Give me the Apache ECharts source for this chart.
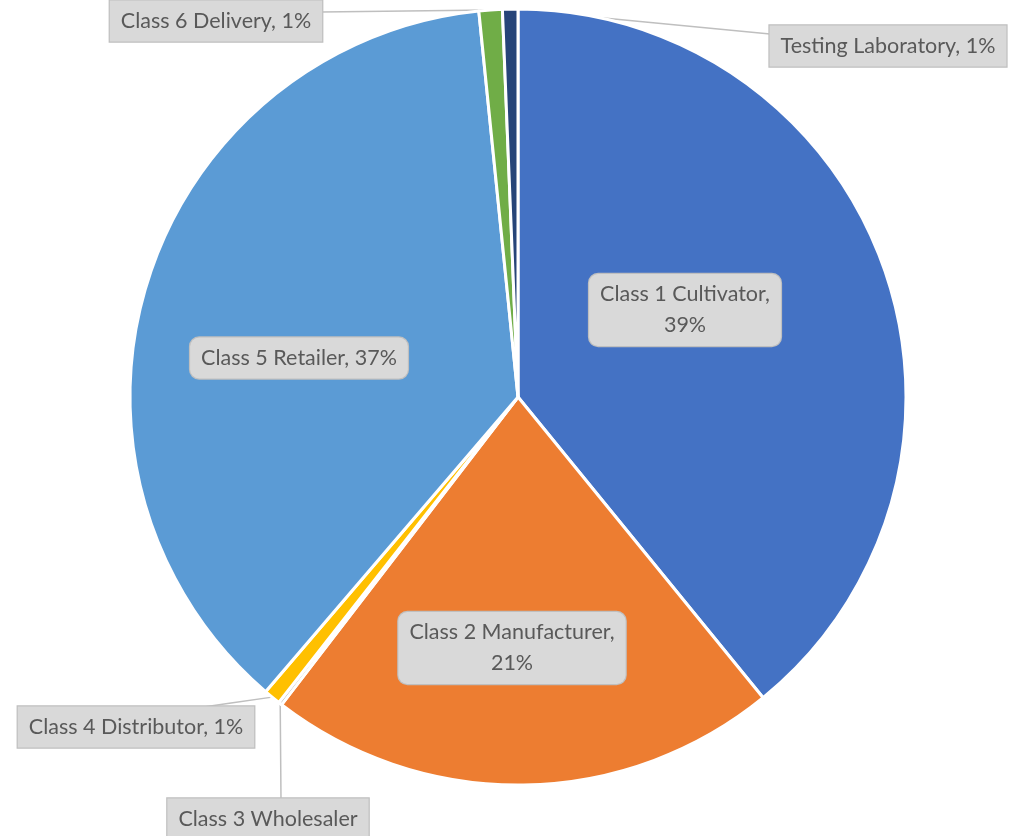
<!DOCTYPE html>
<html>
<head>
<meta charset="utf-8">
<script src="https://cdn.jsdelivr.net/npm/echarts@6/dist/echarts.min.js"></script>
<style>
  html, body { margin: 0; padding: 0; background: #ffffff; }
  #chart { width: 1020px; height: 836px; }
</style>
</head>
<body>
<div id="chart"></div>
<script>
const categories = ['Class 1 Cultivator', 'Class 2 Manufacturer', 'Class 3 Wholesaler', 'Class 4 Distributor', 'Class 5 Retailer', 'Class 6 Delivery', 'Testing Laboratory'];
const shares = [39.1, 21.3, 0.15, 0.7, 37.1, 0.97, 0.64];
const colors = ['#4472C4', '#ED7D31', '#A5A5A5', '#FFC000', '#5B9BD5', '#70AD47', '#264478'];
// label kinds: 'in2' = inside two lines, 'in1' = inside one line, 'out' = callout, 'outName' = callout name only
const labelKinds = ['in2', 'in2', 'outName', 'out', 'in1', 'out', 'out'];

// label placement (centres) and callout ends
const labelPos = {
  0: { x: 685, y: 310 },
  1: { x: 512, y: 648 },
  2: { x: 268, y: 819, end: [281, 800] },
  3: { x: 136, y: 727, end: [190, 709] },
  4: { x: 299, y: 358 },
  5: { x: 216, y: 21, end: [321, 12] },
  6: { x: 888, y: 46, end: [770, 34] }
};

const baseLabel = {
  color: '#595959',
  fontFamily: 'Lato, "Open Sans", sans-serif',
  fontSize: 21.5,
  lineHeight: 31,
  backgroundColor: '#d9d9d9',
  borderColor: '#bfbfbf',
  borderWidth: 1.2,
  padding: [5, 11]
};

const data = categories.map(function (name, i) {
  const kind = labelKinds[i];
  const inside = kind === 'in1' || kind === 'in2';
  let fmt;
  if (kind === 'in2') fmt = '{b},\n{d}%';
  else if (kind === 'outName') fmt = '{b}';
  else fmt = '{b}, {d}%';
  return {
    name: name,
    value: shares[i],
    itemStyle: { color: colors[i] },
    label: Object.assign({}, baseLabel, {
      position: inside ? 'inside' : 'outside',
      formatter: fmt,
      borderRadius: inside ? 9 : 0,
      align: 'center'
    }),
    labelLine: { show: !inside }
  };
});

const chart = echarts.init(document.getElementById('chart'));
chart.setOption({
  backgroundColor: '#ffffff',
  animation: false,
  series: [{
    type: 'pie',
    center: [518, 397],
    radius: 388,
    startAngle: 90,
    clockwise: true,
    percentPrecision: 0,
    avoidLabelOverlap: false,
    itemStyle: { borderColor: '#ffffff', borderWidth: 3 },
    label: { show: true },
    labelLine: { show: true, length: 10, length2: 10, smooth: false, lineStyle: { color: '#bfbfbf', width: 1.5 } },
    emphasis: { disabled: true },
    labelLayout: function (params) {
      const p = labelPos[params.dataIndex];
      const res = { x: p.x, y: p.y, align: 'center', verticalAlign: 'middle' };
      if (p.end && params.labelLinePoints) {
        const p0 = params.labelLinePoints[0];
        const mid = [(p0[0] + p.end[0]) / 2, (p0[1] + p.end[1]) / 2];
        res.labelLinePoints = [p0, mid, p.end];
      }
      return res;
    },
    data: data
  }]
});
</script>
</body>
</html>
